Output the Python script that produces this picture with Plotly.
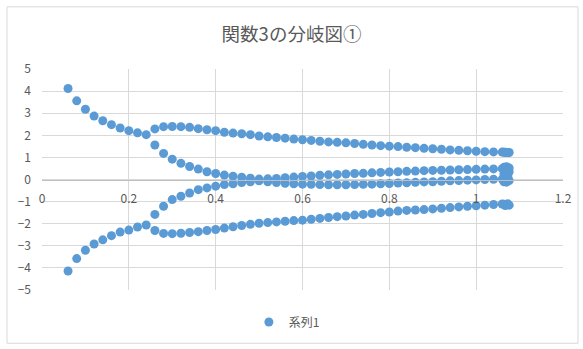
import plotly.graph_objects as go

# Parameter values before the first bifurcation (one branch pair)
param_pre = [0.06, 0.08, 0.10, 0.12, 0.14, 0.16, 0.18, 0.20, 0.22, 0.24]
upper_pre = [4.12, 3.56, 3.18, 2.87, 2.66, 2.48, 2.33, 2.21, 2.11, 2.03]
lower_pre = [-4.14, -3.58, -3.20, -2.92, -2.73, -2.54, -2.38, -2.29, -2.15, -2.06]

# Parameter values after the bifurcation (four branches)
param_post = [round(0.26 + 0.02 * i, 2) for i in range(41)]
outer_upper = [2.29, 2.39, 2.40, 2.39, 2.36, 2.30, 2.25, 2.21,
               2.14, 2.10, 2.07, 2.03,
               1.97, 1.93, 1.90, 1.87, 1.83,
               1.80, 1.77, 1.73, 1.70, 1.68,
               1.66, 1.63, 1.59, 1.56, 1.53,
               1.51, 1.49, 1.46, 1.44, 1.41,
               1.39, 1.37, 1.34, 1.32, 1.30,
               1.28, 1.26, 1.25, 1.24]
inner_upper = [1.56, 1.18, 0.92, 0.73, 0.59, 0.47, 0.35, 0.27,
               0.20, 0.15, 0.10, 0.06,
               0.02, 0.03, 0.05, 0.08, 0.11,
               0.14, 0.16, 0.19, 0.21, 0.23,
               0.25, 0.27, 0.28, 0.30, 0.32,
               0.34, 0.35, 0.37, 0.38, 0.40,
               0.41, 0.42, 0.43, 0.44, 0.45,
               0.46, 0.47, 0.48, 0.49]
inner_lower = [-1.58, -1.21, -0.91, -0.76, -0.61, -0.46, -0.38, -0.30,
               -0.23, -0.19, -0.14, -0.10,
               -0.06, -0.10, -0.14, -0.17, -0.19,
               -0.21, -0.22, -0.23, -0.24, -0.24,
               -0.24, -0.23, -0.22, -0.21, -0.19,
               -0.18, -0.16, -0.15, -0.13, -0.11,
               -0.10, -0.08, -0.06, -0.05, -0.03,
               -0.02, 0.00, 0.01, 0.02]
outer_lower = [-2.31, -2.44, -2.45, -2.43, -2.40, -2.36, -2.31, -2.26,
               -2.20, -2.14, -2.08, -2.03,
               -1.98, -1.95, -1.92, -1.89, -1.86,
               -1.84, -1.80, -1.76, -1.72, -1.68,
               -1.65, -1.61, -1.58, -1.54, -1.50,
               -1.47, -1.43, -1.40, -1.38, -1.36,
               -1.33, -1.30, -1.27, -1.24, -1.21,
               -1.19, -1.16, -1.13, -1.11]

# Dense samples at the end of the parameter range
param_end = [1.064, 1.067, 1.070, 1.073, 1.076]
end_outer_upper = [1.23, 1.23, 1.22, 1.22, 1.22]
end_inner_a = [0.55, 0.40, 0.58, 0.48, 0.52]
end_inner_b = [0.25, 0.18, 0.30, 0.22, 0.35]
end_inner_c = [-0.10, 0.05, -0.12, 0.10, -0.05]
end_outer_lower = [-1.12, -1.18, -1.14, -1.10, -1.16]

xs = param_pre * 2 + param_post * 4 + param_end * 6
ys = (upper_pre + lower_pre + outer_upper + inner_upper + inner_lower + outer_lower
      + end_outer_upper + end_inner_a + end_inner_b + end_inner_c + end_outer_lower)

BLUE = "#5B9BD5"
GRID = "#D9D9D9"
TEXT = "#595959"
FONT = "Noto Sans CJK JP"

fig = go.Figure()
fig.add_trace(go.Scatter(
    x=xs, y=ys, mode="markers", name="系列1",
    marker=dict(color=BLUE, size=9, line=dict(width=0)),
))

fig.update_layout(
    width=583, height=349,
    margin=dict(l=42, r=20, t=69, b=56),
    paper_bgcolor="white", plot_bgcolor="white",
    font=dict(family=FONT, color=TEXT, size=12),
    title=dict(text="関数3の分岐図①", x=0.5, xref="container", xanchor="center",
               y=1 - 35 / 349, yref="container", yanchor="middle",
               font=dict(family=FONT, size=18.5, color=TEXT)),
    showlegend=True,
    legend=dict(orientation="h", x=0.47, xanchor="center", y=-0.145, yanchor="middle",
                font=dict(family=FONT, size=12, color=TEXT), itemwidth=30,
                bgcolor="rgba(0,0,0,0)"),
    xaxis=dict(range=[0, 1.2], dtick=0.2, tick0=0, showgrid=True, gridcolor=GRID,
               gridwidth=1, zeroline=False, showline=True, linecolor="#BFBFBF",
               linewidth=1, anchor="free", position=0.5, ticks="",
               ticklabelstandoff=8, tickfont=dict(size=12, color=TEXT),
               tickformat="~g"),
    yaxis=dict(range=[-5, 5], dtick=1, showgrid=True, gridcolor=GRID, gridwidth=1,
               zeroline=False, showline=False, ticks="", ticklabelstandoff=10,
               tickfont=dict(size=12, color=TEXT)),
    shapes=[dict(type="rect", xref="paper", yref="paper",
                 x0=-35 / 521, x1=1 + 15 / 521, y0=-54 / 224, y1=1 + 63 / 224,
                 line=dict(color=GRID, width=1), fillcolor="rgba(0,0,0,0)", layer="below")],
)

fig.write_html("out.html")
